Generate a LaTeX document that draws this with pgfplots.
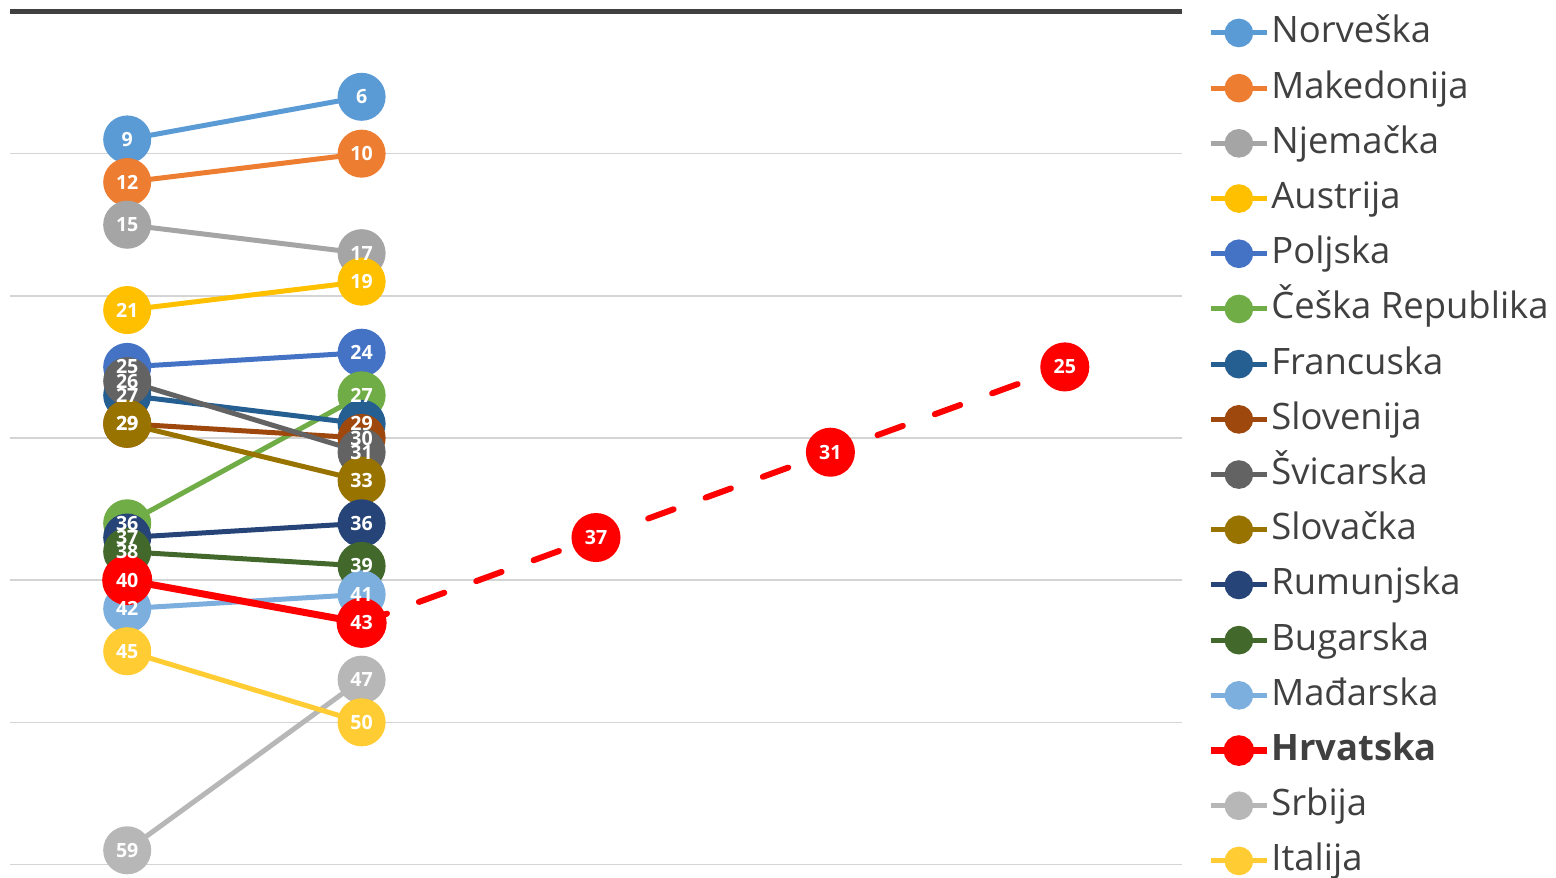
\documentclass[border=0pt]{standalone}
\usepackage{fontspec}
\setmainfont{Open Sans}
\usepackage{pgfplots}
\pgfplotsset{compat=1.18}
\definecolor{cNor}{HTML}{5B9BD5}
\definecolor{cMak}{HTML}{ED7D31}
\definecolor{cNje}{HTML}{A5A5A5}
\definecolor{cAus}{HTML}{FFC000}
\definecolor{cPol}{HTML}{4472C4}
\definecolor{cCes}{HTML}{70AD47}
\definecolor{cFra}{HTML}{255E91}
\definecolor{cSlo}{HTML}{9E480E}
\definecolor{cSvi}{HTML}{636363}
\definecolor{cSlk}{HTML}{997300}
\definecolor{cRum}{HTML}{264478}
\definecolor{cBug}{HTML}{43682B}
\definecolor{cMad}{HTML}{7CAFDD}
\definecolor{cHrv}{HTML}{FF0000}
\definecolor{cSrb}{HTML}{B7B7B7}
\definecolor{cIta}{HTML}{FFCD33}
\definecolor{gridgray}{HTML}{D4D4D4}
\definecolor{axisgray}{HTML}{404040}
\definecolor{textgray}{HTML}{404040}
\begin{document}
\begin{tikzpicture}
\useasboundingbox (-5pt,-6.25pt) rectangle (773pt,432.25pt);
\begin{axis}[
  at={(0,0)}, anchor=south west,
  scale only axis, width=586pt, height=426.5pt,
  xmin=-0.5, xmax=4.5, ymin=0, ymax=60, y dir=reverse,
  axis line style={draw=none},
  xtick=\empty, ytick={10,20,30,40,50,60}, yticklabels={},
  extra y ticks={0}, extra y tick labels={},
  extra y tick style={grid style={color=axisgray, line width=2.1pt}},
  ymajorgrids, grid style={color=gridgray, line width=0.7pt},
  major tick length=0pt,
  clip=false,
  every axis plot/.append style={line width=2.5pt, mark=*, mark size=10.75pt, mark options={draw=none, solid}},
  legend image code/.code={\draw[mark repeat=2, mark phase=2, #1, mark size=5.9pt] plot coordinates {(0pt,0pt) (14pt,0pt) (28pt,0pt)};},
  legend cell align=left,
  legend style={at={(1.0213,0.4895)}, anchor=west, draw=none, fill=none, inner sep=0pt,
    row sep=9.6pt, column sep=0.5pt,
    font=\fontsize{18.2}{22}\selectfont, text=textgray,
    nodes={inner sep=0pt, text height=14pt, text depth=4pt}},
]
\addplot[color=cNor] coordinates {(0,9) (1,6)};
\addlegendentry{Norveška}
\addplot[color=cMak] coordinates {(0,12) (1,10)};
\addlegendentry{Makedonija}
\addplot[color=cNje] coordinates {(0,15) (1,17)};
\addlegendentry{Njemačka}
\addplot[color=cAus] coordinates {(0,21) (1,19)};
\addlegendentry{Austrija}
\addplot[color=cPol] coordinates {(0,25) (1,24)};
\addlegendentry{Poljska}
\addplot[color=cCes] coordinates {(0,36) (1,27)};
\addlegendentry{Češka Republika}
\addplot[color=cFra] coordinates {(0,27) (1,29)};
\addlegendentry{Francuska}
\addplot[color=cSlo] coordinates {(0,29) (1,30)};
\addlegendentry{Slovenija}
\addplot[color=cSvi] coordinates {(0,26) (1,31)};
\addlegendentry{Švicarska}
\addplot[color=cSlk] coordinates {(0,29) (1,33)};
\addlegendentry{Slovačka}
\addplot[color=cRum] coordinates {(0,37) (1,36)};
\addlegendentry{Rumunjska}
\addplot[color=cBug] coordinates {(0,38) (1,39)};
\addlegendentry{Bugarska}
\addplot[color=cMad] coordinates {(0,42) (1,41)};
\addlegendentry{Mađarska}
\addplot[color=cHrv, line width=3.5pt] coordinates {(0,40) (1,43)};
\addlegendentry{\textbf{Hrvatska}}
\addplot[color=cHrv, forget plot, line width=3pt, line cap=round, dash pattern=on 13.5pt off 17pt] coordinates {(1,43) (2,37) (3,31) (4,25)};
\addplot[color=cSrb] coordinates {(0,59) (1,47)};
\addlegendentry{Srbija}
\addplot[color=cIta] coordinates {(0,45) (1,50)};
\addlegendentry{Italija}
% data labels
\addplot[forget plot, draw=none, mark=none, point meta=explicit symbolic,
  nodes near coords={\pgfplotspointmeta}, nodes near coords style={anchor=center, inner sep=0pt, text=white,
  font=\fontsize{9.8}{11}\selectfont\bfseries}] table [meta=lab] {
x y lab
0 9 9
1 6 6
0 12 12
1 10 10
0 15 15
1 17 17
0 21 21
1 19 19
0 25 25
1 24 24
0 36 36
1 27 27
0 27 27
1 29 29
0 29 29
1 30 30
0 26 26
1 31 31
0 29 29
1 33 33
0 37 37
1 36 36
0 38 38
1 39 39
0 42 42
1 41 41
0 40 40
1 43 43
2 37 37
3 31 31
4 25 25
0 59 59
1 47 47
0 45 45
1 50 50
};
\end{axis}
\end{tikzpicture}
\end{document}
